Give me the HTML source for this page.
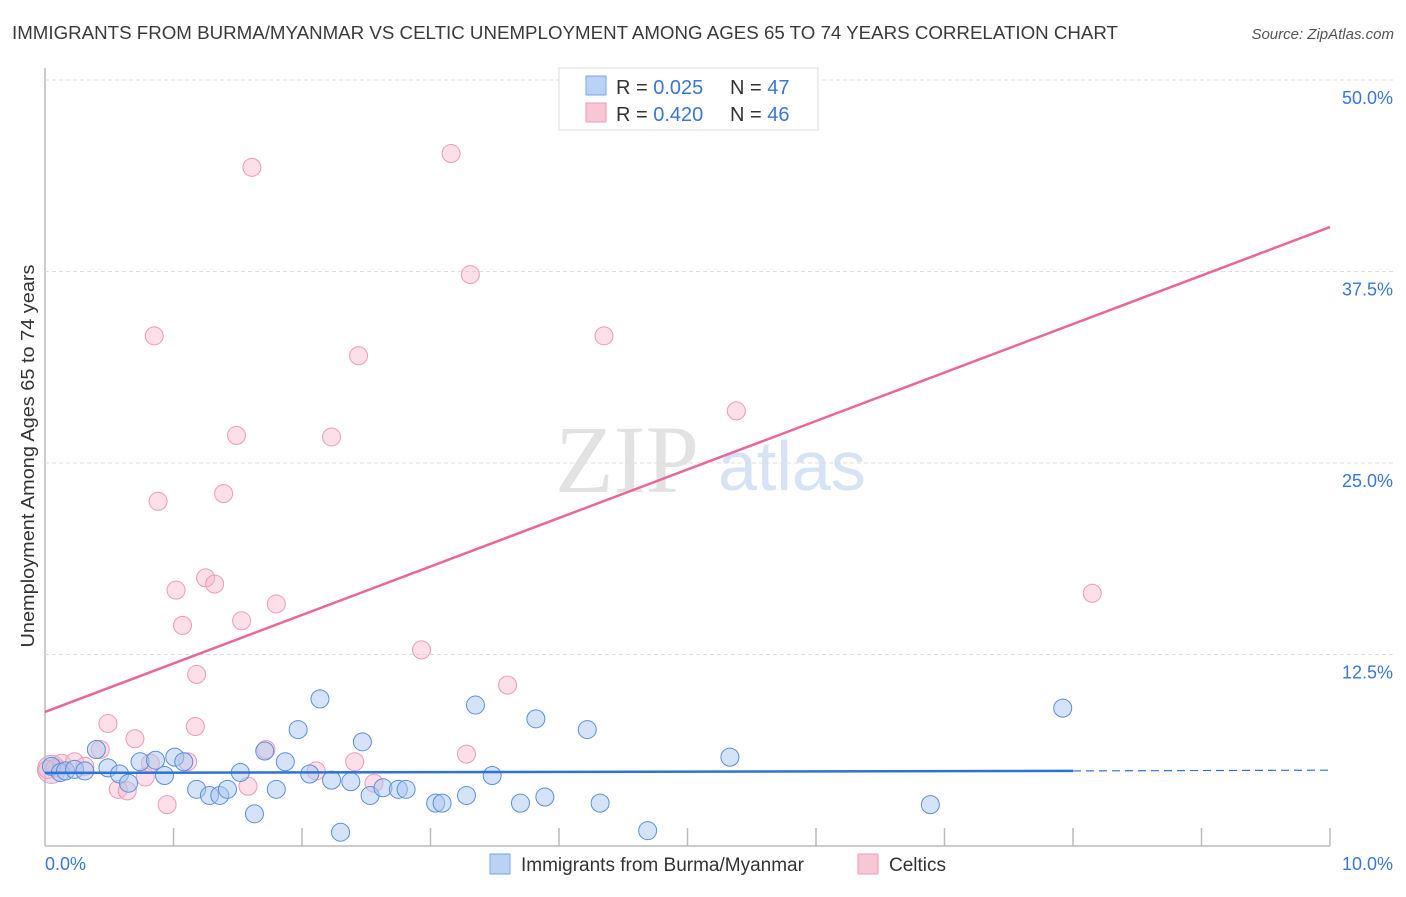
<!DOCTYPE html>
<html><head><meta charset="utf-8"><style>
body{margin:0;background:#fff;font-family:"Liberation Sans",sans-serif}
</style></head><body>
<svg id="c" width="1406" height="892" xmlns="http://www.w3.org/2000/svg">
<text x="12" y="39" font-size="18" fill="#3a3a3a" textLength="1106" lengthAdjust="spacingAndGlyphs">IMMIGRANTS FROM BURMA/MYANMAR VS CELTIC UNEMPLOYMENT AMONG AGES 65 TO 74 YEARS CORRELATION CHART</text>
<text x="1394" y="39" font-size="15" fill="#555" font-style="italic" text-anchor="end">Source: ZipAtlas.com</text>
<text x="555" y="492" font-size="96" fill="#e2e2e2" font-family="Liberation Serif,serif">ZIP</text>
<text x="718" y="490" font-size="70" fill="#d6e3f5">atlas</text>
<text transform="translate(34,456) rotate(-90)" font-size="18" fill="#333" text-anchor="middle" textLength="383" lengthAdjust="spacingAndGlyphs">Unemployment Among Ages 65 to 74 years</text>
<g id="grid"></g><g id="pts"></g><g id="lines"></g>
<g>
<rect x="559" y="68" width="259" height="62" fill="#fff" stroke="#ddd"/>
<rect x="586" y="76" width="20" height="19" fill="#b9d2f5" stroke="#7aa6e0"/>
<rect x="586" y="103" width="20" height="19" fill="#f9c6d6" stroke="#ef9ab5"/>
<text x="616" y="94" font-size="20" fill="#333">R = <tspan fill="#3a76d6">0.025</tspan></text>
<text x="730" y="94" font-size="20" fill="#333">N = <tspan fill="#3a76d6">47</tspan></text>
<text x="616" y="121" font-size="20" fill="#333">R = <tspan fill="#3a76d6">0.420</tspan></text>
<text x="730" y="121" font-size="20" fill="#333">N = <tspan fill="#3a76d6">46</tspan></text>
</g>
<g>
<rect x="490" y="854" width="20" height="20" fill="#b9d2f5" stroke="#7aa6e0"/>
<text x="521" y="871" font-size="19" fill="#333">Immigrants from Burma/Myanmar</text>
<rect x="858" y="854" width="20" height="20" fill="#f9c6d6" stroke="#ef9ab5"/>
<text x="889" y="871" font-size="19" fill="#333">Celtics</text>
</g>
</svg>
<script>
const xTicks=[0,1,2,3,4,5,6,7,8,9,10];
const yTicks=[12.5,25,37.5,50];
const yTickLabels=["12.5%","25.0%","37.5%","50.0%"];
const blueX=[0.05,0.12,0.16,0.23,0.31,0.40,0.49,0.58,0.65,0.74,0.86,0.93,1.01,1.08,1.18,1.28,1.36,1.42,1.52,1.63,1.71,1.80,1.87,1.97,2.06,2.14,2.23,2.30,2.38,2.47,2.53,2.63,2.75,2.81,3.04,3.09,3.28,3.35,3.48,3.70,3.82,3.89,4.22,4.32,4.69,5.33,6.89,7.92];
const blueY=[5.2,4.8,4.9,5.0,4.9,6.3,5.1,4.7,4.1,5.5,5.6,4.6,5.8,5.5,3.7,3.3,3.3,3.7,4.8,2.1,6.2,3.7,5.5,7.6,4.7,9.6,4.3,0.9,4.2,6.8,3.3,3.8,3.7,3.7,2.8,2.8,3.3,9.2,4.6,2.8,8.3,3.2,7.6,2.8,1.0,5.8,2.7,9.0];
const pinkX=[0.02,0.08,0.13,0.23,0.31,0.43,0.49,0.57,0.64,0.70,0.78,0.82,0.85,0.88,0.95,1.02,1.07,1.11,1.17,1.18,1.25,1.32,1.39,1.49,1.53,1.58,1.61,1.72,1.80,2.11,2.23,2.41,2.44,2.56,2.93,3.16,3.28,3.31,3.60,4.35,5.38,8.15];
const pinkY=[5.0,5.1,5.4,5.5,5.2,6.3,8.0,3.7,3.6,7.0,4.5,5.4,33.3,22.5,2.7,16.7,14.4,5.5,7.8,11.2,17.5,17.1,23.0,26.8,14.7,3.9,44.3,6.3,15.8,4.9,26.7,5.5,32.0,4.1,12.8,45.2,6.0,37.3,10.5,33.3,28.4,16.5];
const celticTrend=[8.75,40.4];
const burmaTrend=[4.77,4.9,4.95];
const X=v=>45+v*128.5, Y=v=>846-v*15.32;
const NS="http://www.w3.org/2000/svg";
function mk(p,t,a){const e=document.createElementNS(NS,t);for(const k in a)e.setAttribute(k,a[k]);p.appendChild(e);return e;}
const g=document.getElementById('grid');
const ax=mk(g,'line',{x1:45,y1:68,x2:45,y2:846,stroke:'#bbb','stroke-width':1.5});


const bx=mk(g,'line',{x1:45,y1:846,x2:1330,y2:846,stroke:'#bbb','stroke-width':1.5});


yTicks.forEach((t,i)=>{
 const l=mk(g,'line',{x1:45,y1:Y(t),x2:1395,y2:Y(t),stroke:'#ddd','stroke-dasharray':'4,3'});
 
 
 const tx=mk(g,'text',{x:1393,y:Y(t)+24,'font-size':18,fill:'#3a76d6','text-anchor':'end'});
 tx.textContent=yTickLabels[i];
 
 
});
xTicks.forEach(t=>{
 if(t>0){const l=mk(g,'line',{x1:X(t),y1:828,x2:X(t),y2:846,stroke:'#bbb','stroke-width':1.5});
 
 }
});
const xl0=mk(g,'text',{x:45,y:870,'font-size':18,fill:'#3a76d6'});xl0.textContent='0.0%';


const xl1=mk(g,'text',{x:1393,y:870,'font-size':18,fill:'#3a76d6','text-anchor':'end'});xl1.textContent='10.0%';


const P=document.getElementById('pts');
const big=mk(P,'circle',{cx:X(0.05),cy:Y(5.0),r:14,fill:'rgba(210,180,220,0.45)',stroke:'#d9a0c0','stroke-width':1});


pinkX.forEach((v,i)=>{const c=mk(P,'circle',{cx:X(v),cy:Y(pinkY[i]),r:9,fill:'rgba(248,185,205,0.45)',stroke:'#ef9ab5','stroke-width':1});

});
blueX.forEach((v,i)=>{const c=mk(P,'circle',{cx:X(v),cy:Y(blueY[i]),r:9,fill:'rgba(170,200,240,0.5)',stroke:'#5a8fdc','stroke-width':1});

});
const L=document.getElementById('lines');
const pl=mk(L,'line',{x1:X(0),y1:Y(celticTrend[0]),x2:X(10),y2:Y(celticTrend[1]),stroke:'#e8679a','stroke-width':2.5});


const bl=mk(L,'line',{x1:X(0),y1:Y(burmaTrend[0]),x2:X(8),y2:Y(burmaTrend[1]),stroke:'#2f72d6','stroke-width':2.5});


const bd=mk(L,'line',{x1:X(8),y1:Y(burmaTrend[1]),x2:X(10),y2:Y(burmaTrend[2]),stroke:'#2f72d6','stroke-width':1.2,'stroke-dasharray':'8,5'});


</script>
</body></html>
